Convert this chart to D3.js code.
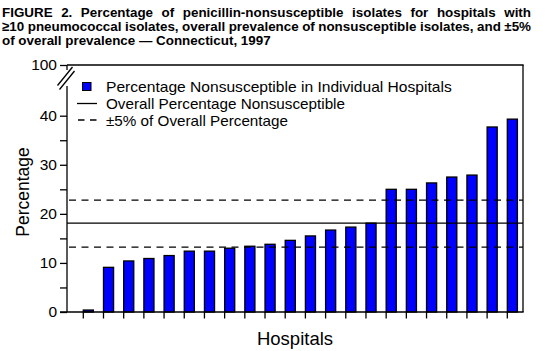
<!DOCTYPE html>
<html>
<head>
<meta charset="utf-8">
<script src="https://cdn.jsdelivr.net/npm/d3@7"></script>
<style>
  html, body { margin: 0; padding: 0; background: #fff; }
  svg { display: block; font-family: "Liberation Sans", Arial, Helvetica, sans-serif; }
</style>
</head>
<body>
<svg id="chart" width="549" height="351"></svg>
<script>
// ---- data ----
const hospitals = ["H1","H2","H3","H4","H5","H6","H7","H8","H9","H10","H11",
                   "H12","H13","H14","H15","H16","H17","H18","H19","H20","H21","H22"];
const pctNonsusceptible = [0.4, 9.1, 10.4, 10.9, 11.5, 12.4, 12.4, 13.0, 13.4, 13.8, 14.6,
                           15.5, 16.7, 17.3, 18.1, 25.0, 25.0, 26.3, 27.5, 27.9, 37.7, 39.3];
const overallPct = [18.1];
const bandPct = [13.2, 22.8];
const yTickValues = [0, 5, 10, 15, 20, 25, 30, 35, 40, 100];
const yTickLabels = ["0", "", "10", "", "20", "", "30", "", "40", "100"];
const titleLines = [
  "FIGURE 2. Percentage of penicillin-nonsusceptible isolates for hospitals with",
  "\u226510 pneumococcal isolates, overall prevalence of nonsusceptible isolates, and \u00b15%",
  "of overall prevalence \u2014 Connecticut, 1997"
];
const legendLabels = [
  "Percentage Nonsusceptible in Individual Hospitals",
  "Overall Percentage Nonsusceptible",
  "\u00b15% of Overall Percentage"
];
const xTitle = "Hospitals";
const yTitle = "Percentage";

// ---- layout ----
const svg = d3.select("#chart");
const plot = { left: 67, right: 523, top: 65, bottom: 312 };

// broken y axis: piecewise linear scale (0..40 regular, 40..100 compressed)
const y = d3.scaleLinear().domain([0, 40, 100]).range([312, 115.7, 65]);
const x = d3.scaleBand().domain(hospitals).range([83.3, 517.4])
  .paddingInner(0.5).paddingOuter(0);

// ---- title ----
const titleG = svg.append("g");
const titleBaselines = [16.7, 30.8, 44.8];
const titleWidths = [529, 529, null];
titleLines.forEach((t, i) => {
  const tx = titleG.append("text")
    .attr("x", 2).attr("y", titleBaselines[i])
    .attr("font-size", 13.4).attr("font-weight", "bold")
    .attr("fill", "#000").text(t);
  if (titleWidths[i]) {
    const natural = tx.node().getComputedTextLength();
    const spaces = (t.match(/ /g) || []).length;
    tx.attr("word-spacing", (titleWidths[i] - natural) / spaces);
  }
});

// ---- bars ----
svg.append("g").selectAll("rect")
  .data(pctNonsusceptible)
  .join("rect")
  .attr("x", (d, i) => x(hospitals[i]))
  .attr("y", d => y(d))
  .attr("width", x.bandwidth())
  .attr("height", d => y(0) - y(d))
  .attr("fill", "#0000ff")
  .attr("stroke", "#000")
  .attr("stroke-width", 1.3);

// ---- reference lines ----
svg.append("g").selectAll("line.overall")
  .data(overallPct).join("line")
  .attr("x1", plot.left).attr("x2", plot.right)
  .attr("y1", d => y(d)).attr("y2", d => y(d))
  .attr("stroke", "#000").attr("stroke-width", 1.3);

svg.append("g").selectAll("line.band")
  .data(bandPct).join("line")
  .attr("x1", plot.left + 2).attr("x2", plot.right)
  .attr("y1", d => y(d)).attr("y2", d => y(d))
  .attr("stroke", "#000").attr("stroke-width", 1.3)
  .attr("stroke-dasharray", "7,5.5");

// ---- axes ----
const yAxis = d3.axisLeft(y)
  .tickValues(yTickValues)
  .tickSize(7)
  .tickPadding(3)
  .tickFormat((d, i) => yTickLabels[i]);

const yg = svg.append("g")
  .attr("transform", `translate(${plot.left},0)`)
  .call(yAxis);
yg.select(".domain").remove();
yg.selectAll(".tick line").attr("stroke", "#000").attr("stroke-width", 1.3);
yg.selectAll(".tick text")
  .attr("font-size", 15.5)
  .attr("fill", "#000")
  .attr("font-family", "'Liberation Sans', Arial, sans-serif");

// y axis line with break
const axisG = svg.append("g").attr("stroke", "#000").attr("stroke-width", 1.3).attr("fill", "none");
axisG.append("line").attr("x1", plot.left).attr("x2", plot.left)
  .attr("y1", y(0)).attr("y2", 86);
axisG.append("line").attr("x1", plot.left).attr("x2", plot.left)
  .attr("y1", y(100)).attr("y2", 70);
// break marks
axisG.append("line").attr("x1", 57.5).attr("y1", 85.5).attr("x2", 72.5).attr("y2", 67);
axisG.append("line").attr("x1", 59.5).attr("y1", 89.5).attr("x2", 74.5).attr("y2", 71);
// top and right frame
axisG.append("line").attr("x1", plot.left).attr("x2", plot.right + 0.65)
  .attr("y1", y(100)).attr("y2", y(100));
axisG.append("line").attr("x1", plot.right).attr("x2", plot.right)
  .attr("y1", y(100)).attr("y2", y(0));
// bottom axis
axisG.append("line").attr("x1", 60).attr("x2", plot.right + 0.65)
  .attr("y1", y(0)).attr("y2", y(0));

// x ticks at left edge of each bar
const xAxis = d3.axisBottom(x).tickSize(6.5).tickFormat("");
const xg = svg.append("g").attr("transform", `translate(0,${y(0)})`).call(xAxis);
xg.select(".domain").remove();
xg.selectAll(".tick").attr("transform", d => `translate(${x(d)},0)`);
xg.selectAll(".tick line").attr("stroke", "#000").attr("stroke-width", 1.3);

// ---- axis titles ----
svg.append("text")
  .attr("x", 295).attr("y", 345)
  .attr("text-anchor", "middle")
  .attr("font-size", 18.5)
  .attr("fill", "#000")
  .text(xTitle);

svg.append("text")
  .attr("transform", "translate(29,192) rotate(-90)")
  .attr("text-anchor", "middle")
  .attr("font-size", 17.5)
  .attr("fill", "#000")
  .text(yTitle);

// ---- legend ----
const lg = svg.append("g");
const legendBaselines = [91.5, 108.5, 125.5];
const legendWidths = [345.7, 239, 182];
legendLabels.forEach((t, i) => {
  lg.append("text")
    .attr("x", 106).attr("y", legendBaselines[i])
    .attr("font-size", 15)
    .attr("fill", "#000")
    .attr("textLength", legendWidths[i])
    .attr("lengthAdjust", "spacingAndGlyphs")
    .text(t);
});
lg.append("rect")
  .attr("x", 82.5).attr("y", 82.5).attr("width", 8.5).attr("height", 8)
  .attr("fill", "#0000ff").attr("stroke", "#000").attr("stroke-width", 1);
lg.append("line")
  .attr("x1", 77).attr("x2", 97).attr("y1", 103.5).attr("y2", 103.5)
  .attr("stroke", "#000").attr("stroke-width", 1.3);
lg.append("line")
  .attr("x1", 78).attr("x2", 96.5).attr("y1", 120).attr("y2", 120)
  .attr("stroke", "#000").attr("stroke-width", 1.3)
  .attr("stroke-dasharray", "6.5,5.5");
</script>
</body>
</html>
